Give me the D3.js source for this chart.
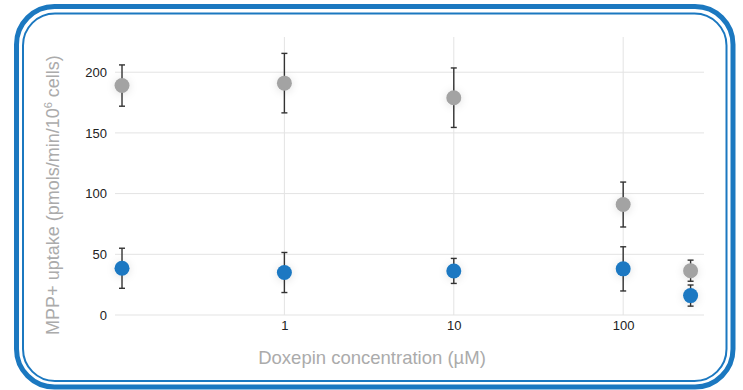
<!DOCTYPE html>
<html>
<head>
<meta charset="utf-8">
<script src="https://cdn.jsdelivr.net/npm/d3@7"></script>
<style>
  html, body { margin: 0; padding: 0; background: #fff; }
  svg { display: block; font-family: "Liberation Sans", Arial, sans-serif; }
</style>
</head>
<body>
<div class="chart"></div>
<script>
// doxepin concentration (uM), first point is the control placed at the left edge
var concentrations = [0.11, 1, 10, 100, 250];

// grey series
var greyMean = [189, 191, 179, 91, 36.5];
var greyErr  = [17, 24.5, 24.5, 18.5, 8.7];

// blue series
var blueMean = [38.5, 35, 36.3, 38, 16];
var blueErr  = [16.5, 16.5, 10.3, 18.2, 8.7];

var xTicks = [1, 10, 100];
var yTicks = [0, 50, 100, 150, 200];

var W = 743, H = 390;
var margin = {top: 37, right: 39, bottom: 75, left: 115};

var svg = d3.select(".chart").append("svg")
	.attr("width", W)
	.attr("height", H);

// soft halo under the markers
var defs = svg.append("defs");
var f = defs.append("filter").attr("id", "halo")
	.attr("x", "-150%").attr("y", "-150%").attr("width", "400%").attr("height", "400%");
f.append("feDropShadow")
	.attr("dx", 0).attr("dy", 1).attr("stdDeviation", 4)
	.attr("flood-color", "#000").attr("flood-opacity", 0.12);

// double rounded frame
svg.append("rect")
	.attr("x", 16.5).attr("y", 6.5)
	.attr("width", 733 - 16.5).attr("height", 387 - 6.5)
	.attr("rx", 38).attr("ry", 38)
	.attr("fill", "none").attr("stroke", "#1b78c0").attr("stroke-width", 5);
svg.append("rect")
	.attr("x", 23).attr("y", 13.5)
	.attr("width", 726.5 - 23).attr("height", 381 - 13.5)
	.attr("rx", 32).attr("ry", 32)
	.attr("fill", "none").attr("stroke", "#1b78c0").attr("stroke-width", 2);

var x = d3.scaleLog()
	.domain([0.1, 300])
	.range([margin.left, W - margin.right]);

var y = d3.scaleLinear()
	.domain([0, 229])
	.range([H - margin.bottom, margin.top]);

var g = svg.append("g");

// grid
g.selectAll("line.hgrid").data(yTicks).enter().append("line")
	.attr("class", "hgrid")
	.attr("x1", x.range()[0]).attr("x2", x.range()[1])
	.attr("y1", function (d) { return y(d); })
	.attr("y2", function (d) { return y(d); })
	.attr("stroke", "#e3e3e3").attr("stroke-width", 1);

g.selectAll("line.vgrid").data(xTicks).enter().append("line")
	.attr("class", "vgrid")
	.attr("x1", function (d) { return x(d); })
	.attr("x2", function (d) { return x(d); })
	.attr("y1", y.range()[1]).attr("y2", y.range()[0])
	.attr("stroke", "#e3e3e3").attr("stroke-width", 1);

// axes (labels only)
var yAxis = d3.axisLeft(y).tickValues(yTicks).tickSize(0).tickPadding(8);
var xAxis = d3.axisBottom(x).tickValues(xTicks).tickSize(0).tickPadding(6)
	.tickFormat(d3.format("d"));

var ya = svg.append("g")
	.attr("transform", "translate(" + x.range()[0] + ",0)")
	.call(yAxis);
var xa = svg.append("g")
	.attr("transform", "translate(0," + y.range()[0] + ")")
	.call(xAxis);

[ya, xa].forEach(function (a) {
	a.select(".domain").remove();
	a.selectAll("text")
		.attr("fill", "#222")
		.style("font-size", "13px")
		.style("font-family", "\"Liberation Sans\", Arial, sans-serif");
});

// axis titles
svg.append("text")
	.attr("x", 372).attr("y", 364)
	.attr("text-anchor", "middle")
	.attr("fill", "#ababab")
	.style("font-size", "18.5px")
	.text("Doxepin concentration (µM)");

var yt = svg.append("text")
	.attr("transform", "translate(58.5," + 195 + ") rotate(-90)")
	.attr("text-anchor", "middle")
	.attr("fill", "#ababab")
	.style("font-size", "18px");
yt.append("tspan").text("MPP+ uptake (pmols/min/10");
yt.append("tspan").attr("dy", -7).style("font-size", "11px").text("6");
yt.append("tspan").attr("dy", 7).text(" cells)");

function drawSeries(means, errs, color) {
	var data = concentrations.map(function (c, i) {
		return {c: c, m: means[i], e: errs[i]};
	});
	var s = g.append("g");
	var eb = s.selectAll("g.eb").data(data).enter().append("g").attr("class", "eb")
		.attr("stroke", "#333").attr("stroke-width", 1.4);
	eb.append("line")
		.attr("x1", function (d) { return x(d.c); })
		.attr("x2", function (d) { return x(d.c); })
		.attr("y1", function (d) { return y(d.m + d.e); })
		.attr("y2", function (d) { return y(d.m - d.e); });
	eb.append("line")
		.attr("x1", function (d) { return x(d.c) - 3; })
		.attr("x2", function (d) { return x(d.c) + 3; })
		.attr("y1", function (d) { return y(d.m + d.e); })
		.attr("y2", function (d) { return y(d.m + d.e); });
	eb.append("line")
		.attr("x1", function (d) { return x(d.c) - 3; })
		.attr("x2", function (d) { return x(d.c) + 3; })
		.attr("y1", function (d) { return y(d.m - d.e); })
		.attr("y2", function (d) { return y(d.m - d.e); });
	s.selectAll("circle").data(data).enter().append("circle")
		.attr("cx", function (d) { return x(d.c); })
		.attr("cy", function (d) { return y(d.m); })
		.attr("r", 7.5)
		.attr("fill", color)
		.attr("filter", "url(#halo)");
}

drawSeries(blueMean, blueErr, "#1a78c2");
drawSeries(greyMean, greyErr, "#a3a3a3");
</script>
</body>
</html>
